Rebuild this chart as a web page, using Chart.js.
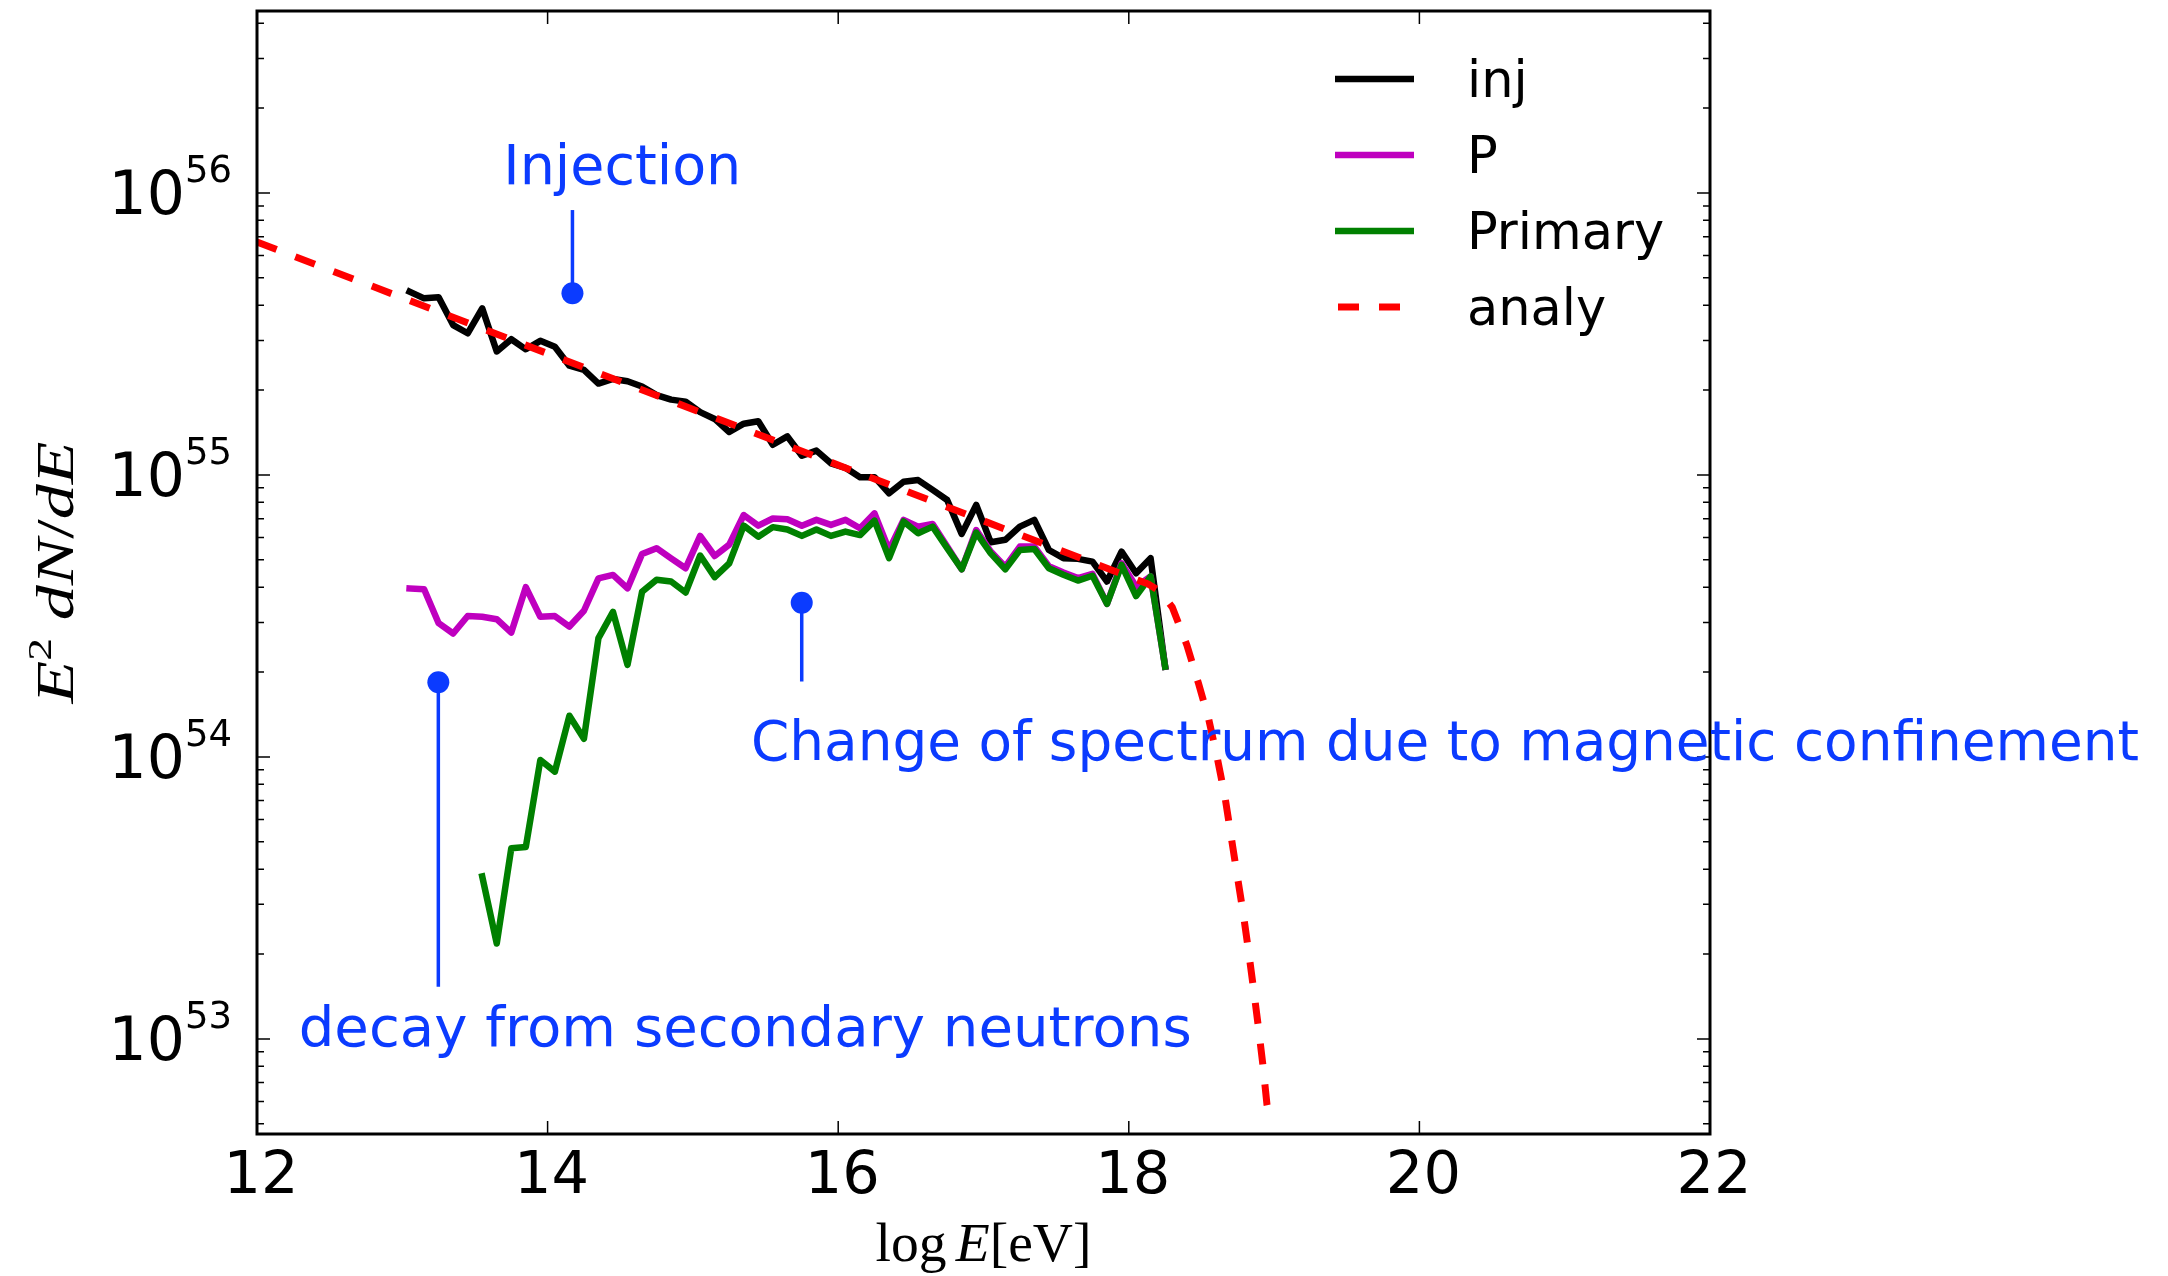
<!DOCTYPE html>
<html>
<head>
<meta charset="utf-8">
<script src="https://cdn.jsdelivr.net/npm/chart.js@4.4.1/dist/chart.umd.min.js"></script>
<style>
  html, body { margin: 0; padding: 0; background: #fff; }
  canvas { display: block; }
</style>
</head>
<body>
<canvas id="spectrum" width="2168" height="1276"></canvas>
<script>
// log10(E / eV) bin centres of the simulated spectra
const energies = [
  13.05, 13.15, 13.25, 13.35, 13.45, 13.55, 13.65, 13.75, 13.85, 13.95,
  14.05, 14.15, 14.25, 14.35, 14.45, 14.55, 14.65, 14.75, 14.85, 14.95,
  15.05, 15.15, 15.25, 15.35, 15.45, 15.55, 15.65, 15.75, 15.85, 15.95,
  16.05, 16.15, 16.25, 16.35, 16.45, 16.55, 16.65, 16.75, 16.85, 16.95,
  17.05, 17.15, 17.25, 17.35, 17.45, 17.55, 17.65, 17.75, 17.85, 17.95,
  18.05, 18.15, 18.25,
];

// E^2 dN/dE
const injValues = [
  4.47e55, 4.23e55, 4.27e55, 3.40e55, 3.18e55, 3.90e55, 2.74e55, 3.03e55, 2.79e55, 2.99e55,
  2.85e55, 2.44e55, 2.36e55, 2.11e55, 2.19e55, 2.15e55, 2.06e55, 1.92e55, 1.85e55, 1.82e55,
  1.67e55, 1.58e55, 1.42e55, 1.52e55, 1.55e55, 1.28e55, 1.37e55, 1.17e55, 1.22e55, 1.10e55,
  1.06e55, 9.82e54, 9.82e54, 8.61e54, 9.46e54, 9.59e54, 8.85e54, 8.15e54, 6.18e54, 7.83e54,
  5.77e54, 5.89e54, 6.56e54, 6.93e54, 5.42e54, 5.07e54, 5.04e54, 4.93e54, 4.19e54, 5.35e54,
  4.48e54, 5.07e54, 2.09e54,
];

const pValues = [
  3.96e54, 3.93e54, 2.98e54, 2.74e54, 3.16e54, 3.14e54, 3.08e54, 2.76e54, 4.00e54, 3.14e54,
  3.16e54, 2.90e54, 3.30e54, 4.30e54, 4.42e54, 3.96e54, 5.24e54, 5.50e54, 5.06e54, 4.67e54,
  6.08e54, 5.16e54, 5.66e54, 7.21e54, 6.61e54, 7.01e54, 6.97e54, 6.61e54, 6.93e54, 6.65e54,
  6.93e54, 6.47e54, 7.31e54, 5.42e54, 6.93e54, 6.56e54, 6.70e54, 5.57e54, 4.63e54, 6.38e54,
  5.35e54, 4.73e54, 5.57e54, 5.57e54, 4.75e54, 4.51e54, 4.31e54, 4.46e54, 3.49e54, 4.86e54,
  4.02e54, 4.37e54, 2.09e54,
];

const primaryValues = [
  null, null, null, null, null, 3.77e53, 2.18e53, 4.74e53, 4.79e53, 9.75e53,
  8.87e53, 1.40e54, 1.16e54, 2.64e54, 3.27e54, 2.12e54, 3.85e54, 4.25e54, 4.19e54, 3.83e54,
  5.18e54, 4.34e54, 4.86e54, 6.61e54, 6.04e54, 6.53e54, 6.41e54, 6.08e54, 6.41e54, 6.08e54,
  6.30e54, 6.12e54, 6.89e54, 5.07e54, 6.84e54, 6.21e54, 6.56e54, 5.50e54, 4.63e54, 6.25e54,
  5.27e54, 4.63e54, 5.42e54, 5.46e54, 4.67e54, 4.43e54, 4.22e54, 4.39e54, 3.49e54, 4.80e54,
  3.72e54, 4.37e54, 2.09e54,
];

// analytic curve
const analyEnergies = [
  12.0, 18.13, 18.22, 18.30, 18.40, 18.48, 18.55, 18.61, 18.662,
  18.703, 18.744, 18.786, 18.823, 18.858, 18.892, 18.923, 18.951, 18.968,
];
const analyValues = [
  6.70e55, 4.11e54, 3.85e54, 3.39e54, 2.49e54, 1.82e54, 1.36e54, 9.86e53, 7.21e53,
  5.27e53, 3.86e53, 2.82e53, 2.07e53, 1.51e53, 1.10e53, 8.07e52, 5.85e52, 5.37e52,
];

// hand-drawn style annotations: marker point, end of the stem, text anchor (left, baseline)
const annoLabels = ['Injection', 'Change of spectrum due to magnetic confinement', 'decay from secondary neutrons'];
const annoPointX = [14.171, 15.749, 13.248];
const annoPointY = [4.41e55, 3.52e54, 1.84e54];
const annoStemY = [8.7e55, 1.85e54, 1.53e53];
const annoTextX = [13.695, 15.40, 12.287];
const annoTextY = [1.08e56, 9.75e53, 9.44e52];

// axes
const xTicks = [12, 14, 16, 18, 20, 22];
const yDecades = [52, 53, 54, 55, 56];
const yMultipliers = [1, 2, 3, 4, 5, 6, 7, 8, 9];

const BLUE = '#0b3bff';

function toPoints(xs, ys) {
  return xs.map((x, i) => ({ x, y: ys[i] }));
}

function drawParts(ctx, parts, x, y, width, align) {
  let total = 0;
  parts.forEach((p) => {
    ctx.font = p.font;
    p.w = ctx.measureText(p.text).width;
    total += p.w;
  });
  const k = width ? width / total : 1;
  let cx = align === 'center' ? x - (total * k) / 2 : x;
  ctx.textAlign = 'left';
  ctx.textBaseline = 'alphabetic';
  parts.forEach((p) => {
    ctx.save();
    ctx.font = p.font;
    ctx.translate(cx, y + (p.dy || 0));
    ctx.scale(k, 1);
    ctx.fillText(p.text, 0, 0);
    ctx.restore();
    cx += p.w * k;
  });
}

const axesDecor = {
  id: 'axesDecor',
  afterDatasetsDraw(chart) {
    const { ctx, chartArea: a, scales: { x, y } } = chart;
    ctx.save();

    // inward ticks on all four sides
    ctx.strokeStyle = '#000';
    ctx.lineWidth = 1.5;
    ctx.beginPath();
    xTicks.forEach((v) => {
      const px = x.getPixelForValue(v);
      ctx.moveTo(px, a.bottom);
      ctx.lineTo(px, a.bottom - 13);
      ctx.moveTo(px, a.top);
      ctx.lineTo(px, a.top + 13);
    });
    yDecades.forEach((d) => {
      yMultipliers.forEach((m) => {
        const v = m * Math.pow(10, d);
        if (v < y.min || v > y.max) return;
        const py = y.getPixelForValue(v);
        const len = m === 1 ? 13 : 7;
        ctx.moveTo(a.left, py);
        ctx.lineTo(a.left + len, py);
        ctx.moveTo(a.right, py);
        ctx.lineTo(a.right - len, py);
      });
    });
    ctx.stroke();

    ctx.lineWidth = 3;
    ctx.strokeRect(a.left, a.top, a.right - a.left, a.bottom - a.top);

    // tick labels
    ctx.fillStyle = '#000';
    ctx.textBaseline = 'alphabetic';
    ctx.textAlign = 'center';
    ctx.font = '59px "DejaVu Sans"';
    xTicks.forEach((v) => {
      ctx.fillText(String(v), x.getPixelForValue(v) + 4, a.bottom + 59);
    });

    yDecades.forEach((d) => {
      const v = Math.pow(10, d);
      if (v < y.min || v > y.max) return;
      const py = y.getPixelForValue(v);
      const right = a.left - 25;
      ctx.textAlign = 'right';
      ctx.font = '37px "DejaVu Sans"';
      const expW = ctx.measureText(String(d)).width;
      ctx.fillText(String(d), right, py - 11);
      ctx.font = '60px "DejaVu Sans"';
      ctx.fillText('10', right - expW, py + 21);
    });

    // axis titles
    const serif = '"Liberation Serif"';
    drawParts(ctx, [
      { text: 'log\u2006', font: `54px ${serif}` },
      { text: 'E', font: `italic 54px ${serif}` },
      { text: '[eV]', font: `54px ${serif}` },
    ], (a.left + a.right) / 2, a.bottom + 127, 216, 'center');

    ctx.save();
    ctx.translate(a.left - 184, (a.top + a.bottom) / 2);
    ctx.rotate(-Math.PI / 2);
    drawParts(ctx, [
      { text: 'E', font: `italic 52px ${serif}` },
      { text: '2', font: `34px ${serif}`, dy: -22 },
      { text: ' dN', font: `italic 52px ${serif}` },
      { text: '/', font: `52px ${serif}` },
      { text: 'dE', font: `italic 52px ${serif}` },
    ], 0, 0, 262, 'center');
    ctx.restore();

    // legend (upper right, no frame)
    const rowTop = a.top + 68;
    chart.data.datasets.slice(0, 4).forEach((ds, i) => {
      const ry = rowTop + i * 76;
      ctx.save();
      ctx.strokeStyle = ds.borderColor;
      ctx.lineWidth = ds.borderWidth;
      const dash = ds.borderDash || [];
      ctx.setLineDash(dash);
      ctx.lineCap = 'butt';
      ctx.beginPath();
      ctx.moveTo(dash.length ? 1338 : 1335, ry);
      ctx.lineTo(1414, ry);
      ctx.stroke();
      ctx.restore();
      ctx.fillStyle = '#000';
      ctx.textAlign = 'left';
      ctx.font = '51px "DejaVu Sans"';
      ctx.fillText(ds.label, 1467, ry + 18);
    });

    // annotation texts
    const annoWidths = [238, 1388, 893];
    ctx.fillStyle = BLUE;
    annoLabels.forEach((t, i) => {
      drawParts(ctx, [{ text: t, font: '56px "DejaVu Sans"' }],
        x.getPixelForValue(annoTextX[i]), y.getPixelForValue(annoTextY[i]), annoWidths[i], 'left');
    });

    ctx.restore();
  },
};

const lineStyle = {
  pointRadius: 0,
  borderWidth: 6.5,
  borderJoinStyle: 'round',
  borderCapStyle: 'square',
  fill: false,
  tension: 0,
  spanGaps: false,
};

const annoDatasets = annoLabels.map((t, i) => ({
  label: t,
  data: [{ x: annoPointX[i], y: annoPointY[i] }, { x: annoPointX[i], y: annoStemY[i] }],
  borderColor: BLUE,
  borderWidth: 3.5,
  pointRadius: [11, 0],
  pointBackgroundColor: BLUE,
  pointBorderWidth: 0,
  order: 0,
}));

new Chart(document.getElementById('spectrum'), {
  type: 'line',
  data: {
    datasets: [
      { ...lineStyle, label: 'inj', data: toPoints(energies, injValues), borderColor: '#000000', order: 4 },
      { ...lineStyle, label: 'P', data: toPoints(energies, pValues), borderColor: '#bf00bf', order: 3 },
      { ...lineStyle, label: 'Primary', data: toPoints(energies, primaryValues), borderColor: '#008000', order: 2 },
      {
        ...lineStyle,
        label: 'analy',
        data: toPoints(analyEnergies, analyValues),
        borderColor: '#ff0000',
        borderWidth: 7,
        borderDash: [21, 20],
        borderCapStyle: 'butt',
        order: 1,
      },
      ...annoDatasets,
    ],
  },
  options: {
    responsive: false,
    animation: false,
    devicePixelRatio: 1,
    layout: { padding: { left: 257, right: 458, top: 11, bottom: 142 } },
    scales: {
      x: { type: 'linear', min: 12, max: 22, display: false },
      y: { type: 'logarithmic', min: 4.6e52, max: 4.42e56, display: false },
    },
    plugins: {
      legend: { display: false },
      tooltip: { enabled: false },
    },
  },
  plugins: [axesDecor],
});
</script>
</body>
</html>
